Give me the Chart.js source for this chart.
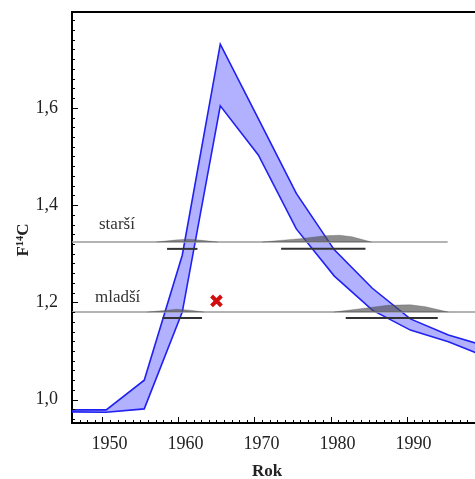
<!DOCTYPE html>
<html>
<head>
<meta charset="utf-8">
<script src="https://cdn.jsdelivr.net/npm/chart.js@4.4.0/dist/chart.umd.min.js"></script>
<style>
  html, body { margin: 0; padding: 0; background: #fff; }
  canvas { display: block; }
</style>
</head>
<body>
<canvas id="myChart" width="475" height="479"></canvas>
<script>
// Calibration band (F14C), mid-year points
const years = [1945.5, 1950.5, 1955.5, 1960.5, 1965.5, 1970.5, 1975.5, 1980.5, 1985.5, 1990.5, 1995.5, 2000.5];
const upperF = [0.979, 0.979, 1.040, 1.297, 1.731, 1.578, 1.424, 1.308, 1.229, 1.166, 1.133, 1.110];
const lowerF = [0.975, 0.974, 0.981, 1.180, 1.604, 1.503, 1.351, 1.254, 1.184, 1.143, 1.119, 1.088];

// measured levels of the two samples
const starsiLevel = 1.324;
const mladsiLevel = 1.180;
const starsiLineX = [1946, 1995.4];
const mladsiLineX = [1946, 1999];

// probability humps (year, F14C)
const starsiSmallX = [1957.1, 1959.5, 1961.1, 1962.8, 1965.2];
const starsiSmallY = [1.324, 1.328, 1.330, 1.328, 1.324];
const starsiBigX = [1971.0, 1976.0, 1979.3, 1981.2, 1982.8, 1985.4];
const starsiBigY = [1.324, 1.331, 1.337, 1.338, 1.335, 1.324];
const mladsiSmallX = [1955.9, 1958.5, 1959.8, 1961.5, 1963.4];
const mladsiSmallY = [1.180, 1.184, 1.186, 1.184, 1.180];
const mladsiBigX = [1980.4, 1984.5, 1987.5, 1990.5, 1992.5, 1995.5];
const mladsiBigY = [1.180, 1.188, 1.194, 1.195, 1.191, 1.180];

// calibrated ranges (start year, end year)
const starsiRanges = [[1958.5, 1962.5], [1973.5, 1984.6]];
const mladsiRanges = [[1957.9, 1963.1], [1982.0, 1994.1]];
const starsiRangeF = 1.310;
const mladsiRangeF = 1.168;

// single marked point
const markYear = 1965.0;
const markF = 1.203;

const xTickLabels = [1950, 1960, 1970, 1980, 1990];

const pts = (xs, ys) => xs.map((x, i) => ({ x: x, y: ys[i] }));
const flat = (xs, v) => xs.map((x) => ({ x: x, y: v }));

const serif = '"Liberation Serif", "Times New Roman", serif';

const levelLine = (xs, v) => ({
  data: flat(xs, v),
  borderColor: "#9a9a9a",
  borderWidth: 1.5,
  pointRadius: 0,
  fill: false,
  order: 3,
});

const hump = (xs, ys, base) => ({
  data: pts(xs, ys),
  borderColor: "rgba(80,80,80,0.65)",
  borderWidth: 0.5,
  backgroundColor: "rgba(80,80,80,0.65)",
  pointRadius: 0,
  fill: { value: base },
  order: 2,
});

const rangeBar = (r, v) => ({
  data: flat(r, v),
  borderColor: "#333",
  borderWidth: 2,
  pointRadius: 0,
  fill: false,
  order: 1,
});

const datasets = [
  {
    data: pts(years, upperF),
    borderColor: "#2020f0",
    borderWidth: 1.6,
    backgroundColor: "rgba(40,40,255,0.36)",
    pointRadius: 0,
    fill: "+1",
    order: 5,
  },
  {
    data: pts(years, lowerF),
    borderColor: "#2020f0",
    borderWidth: 1.6,
    pointRadius: 0,
    fill: false,
    order: 5,
  },
  levelLine(starsiLineX, starsiLevel),
  levelLine(mladsiLineX, mladsiLevel),
  hump(starsiSmallX, starsiSmallY, starsiLevel),
  hump(starsiBigX, starsiBigY, starsiLevel),
  hump(mladsiSmallX, mladsiSmallY, mladsiLevel),
  hump(mladsiBigX, mladsiBigY, mladsiLevel),
];
starsiRanges.forEach((r) => datasets.push(rangeBar(r, starsiRangeF)));
mladsiRanges.forEach((r) => datasets.push(rangeBar(r, mladsiRangeF)));
datasets.push({
  data: [{ x: markYear, y: markF }],
  showLine: false,
  pointStyle: "crossRot",
  pointRadius: 7,
  borderColor: "#d01010",
  borderWidth: 4,
  order: 0,
});

// inward ticks, top frame line, axis titles and sample labels
const extras = {
  id: "extras",
  afterDraw(chart) {
    const { ctx, chartArea: a, scales } = chart;
    const x = scales.x;
    const y = scales.y;
    ctx.save();
    ctx.strokeStyle = "#000";
    ctx.lineWidth = 1;
    for (let v = 1947; v < 1999; v++) {
      const px = Math.round(x.getPixelForValue(v)) + 0.5;
      const len = v % 10 === 0 ? 6 : 3;
      ctx.beginPath();
      ctx.moveTo(px, a.bottom);
      ctx.lineTo(px, a.bottom - len);
      ctx.stroke();
    }
    for (let i = 48; i < 90; i++) {
      const py = Math.round(y.getPixelForValue(i / 50)) + 0.5;
      const len = i % 10 === 0 ? 6 : 3;
      ctx.beginPath();
      ctx.moveTo(a.left, py);
      ctx.lineTo(a.left + len, py);
      ctx.stroke();
    }
    ctx.lineWidth = 2;
    ctx.beginPath();
    ctx.moveTo(a.left, a.top);
    ctx.lineTo(a.right, a.top);
    ctx.stroke();

    ctx.fillStyle = "#333";
    ctx.font = "17px " + serif;
    ctx.textAlign = "left";
    ctx.textBaseline = "alphabetic";
    ctx.fillText("starší", a.left + 27, 229);
    ctx.fillText("mladší", a.left + 23, 302);

    ctx.fillStyle = "#222";
    ctx.font = "bold 17px " + serif;
    ctx.textAlign = "center";
    ctx.textBaseline = "middle";
    ctx.fillText("Rok", 267, 472);
    ctx.translate(24, 240);
    ctx.rotate(-Math.PI / 2);
    ctx.fillText("F¹⁴C", 0, 0);
    ctx.restore();
  },
};

const noPad = (scale) => {
  scale.paddingTop = 0;
  scale.paddingBottom = 0;
  scale.paddingLeft = 0;
  scale.paddingRight = 0;
};

const config = {
  type: "line",
  data: { datasets: datasets },
  options: {
    responsive: false,
    animation: false,
    layout: { autoPadding: false, padding: { top: 12, right: 0, left: 0, bottom: 0 } },
    plugins: {
      legend: { display: false },
      tooltip: { enabled: false },
    },
    elements: { line: { tension: 0 } },
    scales: {
      x: {
        type: "linear",
        min: 1946,
        max: 1999,
        afterFit: (scale) => { scale.height = 56; noPad(scale); },
        grid: { display: false, drawTicks: false },
        border: { display: true, color: "#000", width: 2 },
        ticks: {
          stepSize: 10,
          includeBounds: false,
          padding: 10,
          labelOffset: 7,
          color: "#222",
          font: { family: serif, size: 18 },
          callback: (v) => (xTickLabels.includes(v) ? String(v) : ""),
        },
      },
      y: {
        type: "linear",
        min: 0.952,
        max: 1.797,
        afterFit: (scale) => { scale.width = 72; noPad(scale); },
        grid: { display: false, drawTicks: false },
        border: { display: true, color: "#000", width: 2 },
        ticks: {
          stepSize: 0.2,
          includeBounds: false,
          padding: 14,
          color: "#222",
          font: { family: serif, size: 18 },
          callback: (v) => v.toFixed(1).replace(".", ","),
        },
      },
    },
  },
  plugins: [extras],
};

const ctx = document.getElementById("myChart").getContext("2d");
const myChart = new Chart(ctx, config);
</script>
</body>
</html>
